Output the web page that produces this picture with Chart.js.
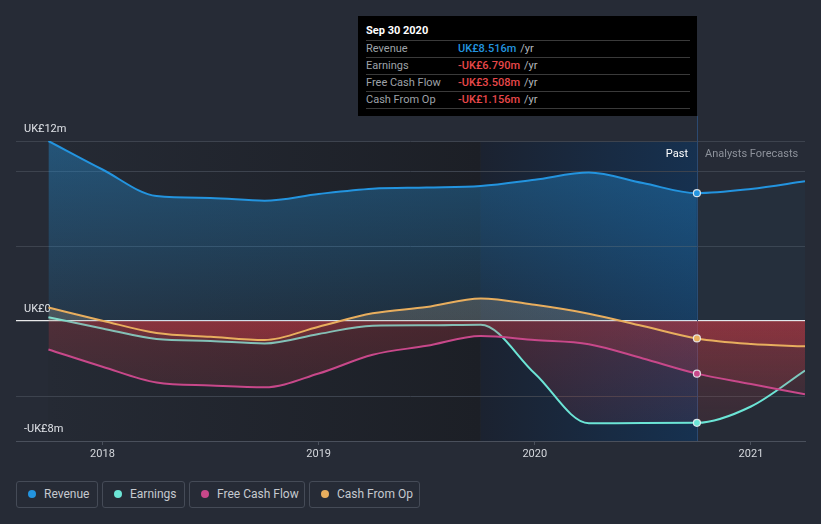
<!DOCTYPE html>
<html>
<head>
<meta charset="utf-8">
<script src="https://cdn.jsdelivr.net/npm/chart.js@4.4.1/dist/chart.umd.min.js"></script>
<style>
  html, body { margin: 0; padding: 0; background: #262b36; width: 821px; height: 524px; overflow: hidden; font-family: Roboto, 'Open Sans', sans-serif; }
  #wrap { position: relative; width: 821px; height: 524px; }
  #grafico { position: absolute; left: 0; top: 0; }
  .tip { position: absolute; left: 358px; top: 16px; width: 339px; height: 100px; background: #000; }
  .tip .titulo { position: absolute; left: 8px; top: 8px; font-size: 11px; line-height: 14px; font-weight: bold; color: #fff; }
  .tip .linhas { position: absolute; left: 8px; top: 24px; width: 324px; border-bottom: 1px solid #3a3a3a; }
  .tip .linha { border-top: 1px solid #3a3a3a; height: 16px; line-height: 16px; font-size: 11px; display: flex; }
  .tip .rot { width: 92px; color: #9ea2a8; }
  .tip .val { font-weight: 500; }
  .tip .yr { color: #b4b8be; margin-left: 4px; }
  .passado { position: absolute; right: 133px; top: 147px; font-size: 11px; line-height: 13px; color: #fff; }
  .previsao { position: absolute; left: 705px; top: 147px; font-size: 11px; line-height: 13px; color: #8d929b; }
  .legenda { position: absolute; top: 481px; left: 0; }
  .legenda .item { position: absolute; top: 0; height: 25px; border: 1px solid #454b57; border-radius: 3px; font-size: 12px; line-height: 25px; color: #c5c9cf; }
  .legenda .ponto { position: absolute; left: 11px; top: 8px; width: 8px; height: 8px; border-radius: 50%; }
  .legenda .txt { position: absolute; left: 27px; top: 0; white-space: nowrap; }
</style>
</head>
<body>
<div id="wrap">
  <canvas id="grafico" width="821" height="470"></canvas>

  <div class="tip">
    <div class="titulo">Sep 30 2020</div>
    <div class="linhas">
      <div class="linha"><span class="rot">Revenue</span><span class="val" style="color:#2394df">UK£8.516m</span><span class="yr">/yr</span></div>
      <div class="linha"><span class="rot">Earnings</span><span class="val" style="color:#e8484a">-UK£6.790m</span><span class="yr">/yr</span></div>
      <div class="linha"><span class="rot">Free Cash Flow</span><span class="val" style="color:#e8484a">-UK£3.508m</span><span class="yr">/yr</span></div>
      <div class="linha"><span class="rot">Cash From Op</span><span class="val" style="color:#e8484a">-UK£1.156m</span><span class="yr">/yr</span></div>
    </div>
  </div>

  <div class="passado">Past</div>
  <div class="previsao">Analysts Forecasts</div>

  <div class="legenda" id="legenda"></div>
</div>

<script>
// dados (UK£ milhões, acumulado 12 meses)
const TRIMESTRES = [2017.75, 2018.0, 2018.25, 2018.5, 2018.75, 2019.0, 2019.25, 2019.5, 2019.75, 2020.0, 2020.25, 2020.5, 2020.75, 2021.0, 2021.25];
const RECEITA = [12.0, 10.1, 8.33, 8.2, 8.02, 8.47, 8.82, 8.9, 9.0, 9.42, 9.9, 9.2, 8.52, 8.8, 9.31];
const LUCRO = [0.25, -0.5, -1.2, -1.33, -1.5, -0.87, -0.31, -0.29, -0.25, -3.5, -6.82, -6.8, -6.79, -5.7, -3.3];
const FLUXO_LIVRE = [-1.9, -3.05, -4.1, -4.3, -4.42, -3.5, -2.25, -1.65, -1.0, -1.27, -1.55, -2.5, -3.51, -4.2, -4.89];
const CAIXA_OPER = [0.9, 0.02, -0.8, -1.05, -1.27, -0.38, 0.51, 0.93, 1.5, 1.08, 0.49, -0.33, -1.16, -1.53, -1.69];

const ANOS = [2018, 2019, 2020, 2021];
const Y_TICKS = [-8, -5, 0, 5, 10, 12];
const Y_ROTULOS = { '12': 'UK£12m', '0': 'UK£0', '-8': '-UK£8m' };

const INICIO_DESTAQUE = 2019.75;
const ULTIMO_REAL = 2020.75;

const SERIES = [
    { nome: 'Revenue', cor: '#2394df', valores: RECEITA },
    { nome: 'Earnings', cor: '#6ce5d6', valores: LUCRO },
    { nome: 'Free Cash Flow', cor: '#c8488a', valores: FLUXO_LIVRE },
    { nome: 'Cash From Op', cor: '#e8ae5e', valores: CAIXA_OPER }
];

// legenda em html, caixas com larguras medidas do original
const LEGENDA_CAIXAS = [[16, 80], [102, 81], [189, 114], [309, 109]];
const legenda = document.getElementById('legenda');
SERIES.forEach((s, i) => {
    const el = document.createElement('div');
    el.className = 'item';
    el.style.left = LEGENDA_CAIXAS[i][0] + 'px';
    el.style.width = LEGENDA_CAIXAS[i][1] + 'px';
    el.innerHTML = `<span class="ponto" style="background:${s.cor}"></span><span class="txt">${s.nome}</span>`;
    legenda.appendChild(el);
});

function gradienteArea(chart, receita) {
    const { ctx, chartArea, scales } = chart;
    if (!chartArea) return 'transparent';
    const topo = chartArea.top;
    const base = chartArea.bottom;
    const z = (scales.y.getPixelForValue(0) - topo) / (base - topo);
    const g = ctx.createLinearGradient(0, topo, 0, base);
    if (receita) {
        g.addColorStop(0, 'rgba(35,148,223,0.40)');
        g.addColorStop(z, 'rgba(35,148,223,0.12)');
        g.addColorStop(1, 'rgba(35,148,223,0.12)');
    } else {
        g.addColorStop(0, 'rgba(200,185,160,0.28)');
        g.addColorStop(z, 'rgba(200,185,160,0.22)');
        g.addColorStop(Math.min(1, z + 0.002), 'rgba(215,60,70,0.24)');
        g.addColorStop(1, 'rgba(215,60,70,0.07)');
    }
    return g;
}

// fundo escuro do passado, faixa azul do último ano e a linha vertical
const fundoRegioes = {
    id: 'fundoRegioes',
    beforeDraw(chart) {
        const { ctx, chartArea: a, scales: { x } } = chart;
        const x0 = x.getPixelForValue(TRIMESTRES[0]);
        const x1 = x.getPixelForValue(INICIO_DESTAQUE);
        const x2 = x.getPixelForValue(ULTIMO_REAL);
        ctx.save();
        let g = ctx.createLinearGradient(x0, 0, x1, 0);
        g.addColorStop(0, '#252a34');
        g.addColorStop(1, '#1c1f26');
        ctx.fillStyle = g;
        ctx.fillRect(x0, a.top, x1 - x0, a.bottom - a.top);
        g = ctx.createLinearGradient(x1, 0, x2, 0);
        g.addColorStop(0, '#1b2230');
        g.addColorStop(1, '#163150');
        ctx.fillStyle = g;
        ctx.fillRect(x1, a.top, x2 - x1, a.bottom - a.top);
        ctx.restore();
    },
    beforeDatasetsDraw(chart) {
        const { ctx, chartArea: a, scales: { x } } = chart;
        const px = Math.round(x.getPixelForValue(ULTIMO_REAL)) + 0.5;
        ctx.save();
        ctx.strokeStyle = '#2b4a72';
        ctx.lineWidth = 1;
        ctx.beginPath();
        ctx.moveTo(px, 116);
        ctx.lineTo(px, a.bottom);
        ctx.stroke();
        ctx.restore();
    }
};

// desenhadas na ordem inversa: receita primeiro, caixa operacional por cima
const datasets = SERIES.map((s, i) => ({
    label: s.nome,
    data: TRIMESTRES.map((t, k) => ({ x: t, y: s.valores[k] })),
    borderColor: s.cor,
    borderWidth: 2,
    fill: 'origin',
    backgroundColor: (c) => gradienteArea(c.chart, i === 0),
    // na previsão a área da receita quase some
    segment: i === 0 ? {
        backgroundColor: (c) => (c.p0.parsed.x >= ULTIMO_REAL ? 'rgba(35,148,223,0.04)' : undefined)
    } : {},
    cubicInterpolationMode: 'monotone',
    pointRadius: (c) => (c.raw && c.raw.x === ULTIMO_REAL ? 3.5 : 0),
    pointBackgroundColor: s.cor,
    pointBorderColor: 'rgba(235,238,242,0.9)',
    pointBorderWidth: 1.2,
    order: SERIES.length - i
})).reverse();

new Chart(document.getElementById('grafico'), {
    type: 'line',
    data: { datasets },
    options: {
        responsive: false,
        animation: false,
        layout: { padding: { top: 141, left: 16, right: 16, bottom: 9 } },
        plugins: { legend: { display: false }, tooltip: { enabled: false } },
        scales: {
            x: {
                type: 'linear',
                min: 2017.6,
                max: 2021.25,
                afterBuildTicks: (s) => { s.ticks = ANOS.map((v) => ({ value: v })); },
                afterFit: (s) => { s.height = 20; },
                ticks: {
                    callback: (v) => String(v),
                    color: '#d5d8dd',
                    font: { family: 'Roboto', size: 11 },
                    padding: 3,
                    maxRotation: 0
                },
                grid: { drawOnChartArea: false, drawTicks: true, tickLength: 4, color: '#4a505c' },
                border: { display: true, color: '#4a505c' }
            },
            y: {
                min: -8,
                max: 12,
                afterBuildTicks: (s) => { s.ticks = Y_TICKS.map((v) => ({ value: v })); },
                afterFit: (s) => { s.width = 0; },
                ticks: {
                    mirror: true,
                    padding: 8,
                    labelOffset: -12,
                    callback: (v) => Y_ROTULOS[String(v)] || '',
                    color: '#dfe2e7',
                    font: { family: 'Roboto', size: 11 }
                },
                grid: {
                    drawTicks: false,
                    color: (c) => (c.tick && c.tick.value === 0 ? 'rgba(255,255,255,0.9)' : '#3d434e'),
                    lineWidth: (c) => (c.tick && c.tick.value === 0 ? 1.2 : 1)
                },
                border: { display: false }
            }
        }
    },
    plugins: [fundoRegioes]
});
</script>
</body>
</html>
